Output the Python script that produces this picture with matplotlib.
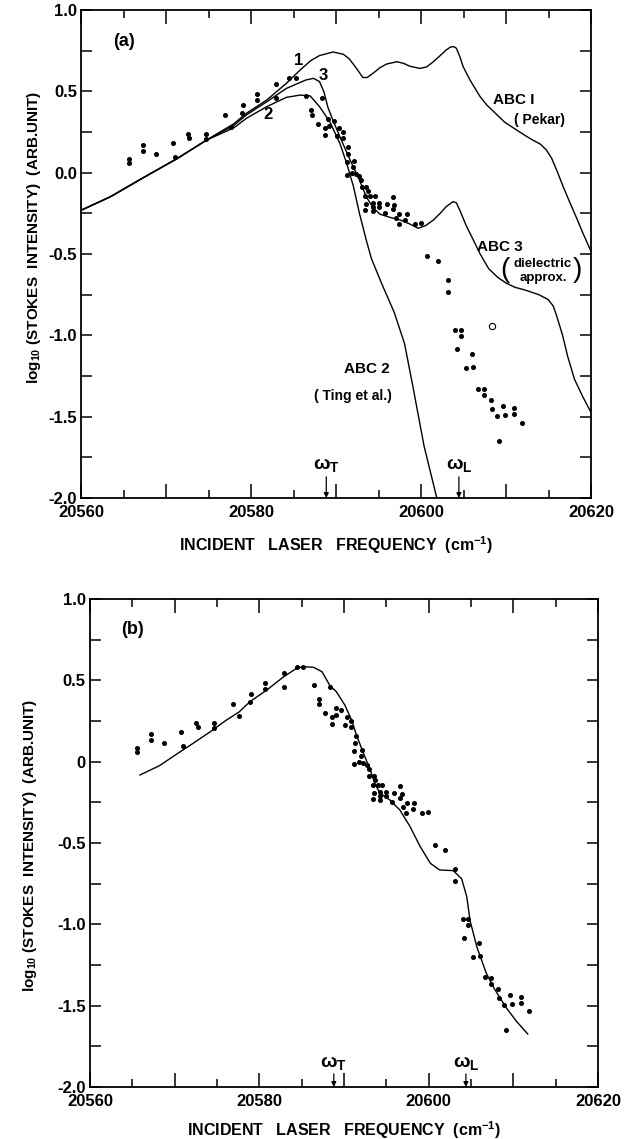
import matplotlib
matplotlib.use('Agg')
import matplotlib.pyplot as plt
from matplotlib.ticker import MultipleLocator, FuncFormatter

plt.rcParams['font.family'] = ['Liberation Sans', 'DejaVu Sans']
plt.rcParams['font.weight'] = 'bold'
plt.rcParams['axes.labelweight'] = 'bold'
plt.rcParams['mathtext.default'] = 'regular'

# ---------------- experimental points (same data in both panels) ----------------
exp_x = [20565.6, 20565.6, 20567.2, 20567.2, 20568.8, 20570.8, 20571.0, 20572.5, 20572.7,
         20574.7, 20574.6, 20576.9, 20577.6, 20579.0, 20578.9, 20580.7, 20580.7, 20582.9,
         20582.9, 20584.4, 20585.2, 20586.4, 20587.0, 20587.1, 20587.8, 20588.3, 20588.6,
         20588.6, 20589.05, 20589.1, 20589.7, 20590.1, 20590.3, 20590.8, 20590.8, 20591.4,
         20591.3, 20591.2, 20591.2, 20591.8, 20592.1, 20592.0, 20592.3, 20592.7, 20592.9,
         20593.0, 20593.5, 20593.7, 20593.4, 20594.0, 20594.5, 20593.5, 20593.4, 20594.25,
         20594.3, 20594.3, 20595.0, 20594.96, 20595.7, 20595.9, 20596.6, 20596.8, 20596.6,
         20597.0, 20597.4, 20597.3, 20598.1, 20598.3, 20599.2, 20599.9, 20600.7, 20601.9,
         20603.1, 20603.1, 20604.0, 20604.6, 20604.6, 20604.2, 20605.9, 20605.2, 20606.1,
         20606.7, 20607.4, 20607.4, 20608.15, 20608.3, 20608.9, 20609.6, 20609.8, 20610.9,
         20610.9, 20611.8, 20609.1]
exp_y = [0.086, 0.061, 0.170, 0.133, 0.117, 0.180, 0.098, 0.240, 0.215,
         0.236, 0.205, 0.355, 0.283, 0.414, 0.369, 0.482, 0.447, 0.543,
         0.457, 0.584, 0.580, 0.471, 0.385, 0.352, 0.301, 0.461, 0.277,
         0.230, 0.328, 0.287, 0.318, 0.226, 0.277, 0.252, 0.211, 0.160,
         0.117, 0.068, -0.016, 0.000, 0.072, 0.035, -0.010, -0.020, -0.047,
         -0.088, -0.088, -0.112, -0.143, -0.143, -0.143, -0.194, -0.229, -0.184,
         -0.209, -0.236, -0.184, -0.209, -0.246, -0.194, -0.149, -0.199, -0.225,
         -0.277, -0.256, -0.317, -0.293, -0.256, -0.317, -0.307, -0.512, -0.543,
         -0.661, -0.733, -0.967, -0.967, -1.004, -1.082, -1.117, -1.198, -1.192,
         -1.327, -1.331, -1.368, -1.397, -1.454, -1.495, -1.434, -1.491, -1.444,
         -1.485, -1.536, -1.649]

# open circle in panel (a)
open_x = [20608.3]
open_y = [-0.94]

# ---------------- panel (a) theory curves ----------------
abc1_x = [20560, 20563.4, 20567.3, 20571.2, 20574.7, 20577.9, 20579.4, 20581.8, 20584.1,
          20585.7, 20587.0, 20588.0, 20589.6, 20590.8, 20591.5, 20592.3, 20593.1, 20593.6,
          20594.3, 20595.1, 20595.9, 20597.1, 20597.9, 20598.6, 20599.8, 20600.6, 20601.4,
          20602.2, 20602.9, 20603.4, 20603.8, 20604.1, 20604.5, 20604.9, 20605.7, 20606.9,
          20607.7, 20608.5, 20609.8, 20611.2, 20612.3, 20613.1, 20614.0, 20614.7, 20615.3,
          20615.9, 20616.7, 20617.5, 20618.3, 20619.0, 20620.0]
abc1_y = [-0.23, -0.148, -0.03, 0.085, 0.20, 0.30, 0.365, 0.447, 0.549,
          0.63, 0.69, 0.72, 0.742, 0.728, 0.70, 0.645, 0.585, 0.585,
          0.611, 0.645, 0.668, 0.682, 0.672, 0.655, 0.641, 0.650, 0.682,
          0.720, 0.754, 0.772, 0.775, 0.765, 0.715, 0.652, 0.57, 0.467,
          0.415, 0.375, 0.31, 0.262, 0.225, 0.20, 0.175, 0.139, 0.09,
          0.016, -0.09, -0.189, -0.285, -0.373, -0.49]

abc3_x = [20560, 20563.4, 20567.3, 20571.2, 20574.7, 20577.9, 20579.4, 20581.8, 20584.1,
          20586.4, 20587.3, 20588.0, 20588.5, 20589.0, 20589.6, 20590.4, 20591.6, 20592.7,
          20593.5, 20594.3, 20595.1, 20596.3, 20597.5, 20598.6, 20599.6, 20600.5, 20601.4,
          20602.2, 20602.9, 20603.7, 20604.1, 20604.5, 20605.3, 20606.1, 20606.9, 20607.9,
          20609.0, 20610.0, 20611.0, 20612.1, 20613.8, 20614.9, 20615.5, 20615.9, 20616.6,
          20617.2, 20618.0, 20619.0, 20620.0]
abc3_y = [-0.23, -0.148, -0.03, 0.085, 0.20, 0.29, 0.355, 0.436, 0.518,
          0.570, 0.580, 0.56, 0.50, 0.40, 0.32, 0.221, 0.078, -0.045,
          -0.148, -0.215, -0.255, -0.275, -0.291, -0.315, -0.342, -0.325, -0.291,
          -0.25, -0.209, -0.178, -0.185, -0.23, -0.33, -0.414, -0.50, -0.59,
          -0.645, -0.68, -0.705, -0.72, -0.75, -0.78, -0.82, -0.88, -1.0,
          -1.13, -1.27, -1.38, -1.48]

abc2_x = [20560, 20563.4, 20567.3, 20571.2, 20574.7, 20577.9, 20579.4, 20581.8, 20584.1,
          20585.7, 20586.9, 20588.0, 20589.2, 20590.4, 20591.2, 20592.0, 20592.7, 20593.5,
          20594.1, 20595.3, 20596.8, 20598.0, 20598.9, 20600.3, 20601.8]
abc2_y = [-0.23, -0.148, -0.03, 0.085, 0.20, 0.275, 0.334, 0.406, 0.463,
          0.477, 0.472, 0.406, 0.314, 0.18, 0.057, -0.086, -0.25, -0.414,
          -0.527, -0.68, -0.86, -1.05, -1.29, -1.68, -2.0]

# ---------------- panel (b) fitted curve ----------------
fit_x = [20565.9, 20568.2, 20570.2, 20572.1, 20574.1, 20576.1, 20577.6, 20578.9, 20580.9,
         20582.8, 20584.4, 20585.2, 20586.4, 20587.4, 20588.3, 20589.1, 20590.1, 20590.9,
         20591.5, 20592.3, 20593.1, 20593.7, 20594.25, 20595.4, 20596.6, 20597.8, 20599.0,
         20600.2, 20601.3, 20602.9, 20603.9, 20604.5, 20604.9, 20605.7, 20606.8, 20607.8,
         20609.2, 20610.4, 20611.7]
fit_y = [-0.082, -0.025, 0.045, 0.11, 0.18, 0.255, 0.305, 0.369, 0.441,
         0.519, 0.574, 0.584, 0.580, 0.553, 0.471, 0.430, 0.348, 0.256,
         0.160, 0.052, -0.051, -0.140, -0.194, -0.235, -0.297, -0.399, -0.522,
         -0.625, -0.666, -0.67, -0.72, -0.83, -0.98, -1.14, -1.30, -1.40,
         -1.516, -1.598, -1.674]

omega_T = 20588.8
omega_L = 20604.4

ylab_a = ["1.0", "0.5", "0.0", "-0.5", "-1.0", "-1.5", "-2.0"]
ylab_b = ["1.0", "0.5", "0", "-0.5", "-1.0", "-1.5", "-2.0"]
yvals = [1.0, 0.5, 0.0, -0.5, -1.0, -1.5, -2.0]

fig = plt.figure(figsize=(6.24, 11.39), dpi=100)
ax1 = fig.add_axes([0.1306, 0.5628, 0.8173, 0.4284])
ax2 = fig.add_axes([0.1442, 0.0457, 0.8141, 0.4284])


def style(ax, ylabels, ylab_xy, xlab_y):
    ax.set_xlim(20560, 20620)
    ax.set_ylim(-2.0, 1.0)
    ax.xaxis.set_major_locator(MultipleLocator(10))
    ax.xaxis.set_minor_locator(MultipleLocator(5))
    ax.xaxis.set_major_formatter(FuncFormatter(
        lambda v, p: f"{int(round(v))}" if int(round(v)) % 20 == 0 else ""))
    ax.set_yticks(yvals, labels=ylabels)
    ax.yaxis.set_minor_locator(MultipleLocator(0.25))
    ax.tick_params(which='both', direction='in', top=True, right=True, width=1.1)
    ax.tick_params(axis='x', which='major', length=10, pad=5, labelsize=12)
    ax.tick_params(axis='x', which='minor', length=6)
    ax.tick_params(axis='y', which='both', length=8, pad=3, labelsize=12)
    for s in ax.spines.values():
        s.set_linewidth(1.3)
    ax.set_xlabel("INCIDENT   LASER   FREQUENCY  (cm$^{-1}$)", fontsize=11.5,
                  va='center')
    ax.xaxis.set_label_coords(0.5, xlab_y)
    ax.set_ylabel("log$_{10}$ (STOKES  INTENSITY)  (ARB.UNIT)", fontsize=11,
                  va='center')
    ax.yaxis.set_label_coords(*ylab_xy)


def omega(ax, ylab, ytop):
    for x, s in [(omega_T, r"$\omega_T$"), (omega_L, r"$\omega_L$")]:
        ax.annotate('', xy=(x, -2.0), xytext=(x, ytop),
                    arrowprops=dict(arrowstyle='-|>', lw=0.9, color='k',
                                    mutation_scale=7, shrinkA=0, shrinkB=0))
        ax.text(x, ylab, s, ha='center', va='center', fontsize=14)


# panel (a)
style(ax1, ylab_a, (-0.093, 0.535), -0.096)
ax1.plot(abc1_x, abc1_y, color='k', lw=1.0)
ax1.plot(abc3_x, abc3_y, color='k', lw=1.0)
ax1.plot(abc2_x, abc2_y, color='k', lw=1.0)
ax1.plot(exp_x, exp_y, 'o', color='k', ms=2.6, ls='none')
ax1.plot(open_x, open_y, 'o', mfc='none', mec='k', ms=4.5, mew=0.8, ls='none')
ax1.text(20565, 0.805, "(a)", fontsize=13, ha='center', va='center')
ax1.text(20585.5, 0.69, "1", fontsize=12, ha='center', va='center')
ax1.text(20588.4, 0.60, "3", fontsize=12, ha='center', va='center')
ax1.text(20582.0, 0.355, "2", fontsize=12, ha='center', va='center')
ax1.text(20610.8, 0.447, "ABC I", fontsize=11, ha='center', va='center')
ax1.text(20613.9, 0.324, "( Pekar)", fontsize=10, ha='center', va='center')
ax1.text(20609.2, -0.455, "ABC 3", fontsize=11, ha='center', va='center')
ax1.text(20614.2, -0.563, "dielectric", fontsize=9.5, ha='center', va='center')
ax1.text(20614.4, -0.645, "approx.", fontsize=9.5, ha='center', va='center')
ax1.text(20609.8, -0.60, "(", fontsize=20, ha='center', va='center', fontweight='normal')
ax1.text(20618.4, -0.60, ")", fontsize=20, ha='center', va='center', fontweight='normal')
ax1.text(20593.6, -1.21, "ABC 2", fontsize=11, ha='center', va='center')
ax1.text(20591.9, -1.374, "( Ting et al.)", fontsize=10, ha='center', va='center')
omega(ax1, -1.80, -1.87)

# panel (b)
style(ax2, ylab_b, (-0.118, 0.495), -0.088)
ax2.plot(fit_x, fit_y, color='k', lw=1.0)
ax2.plot(exp_x, exp_y, 'o', color='k', ms=2.6, ls='none')
ax2.text(20565, 0.81, "(b)", fontsize=13, ha='center', va='center')
omega(ax2, -1.85, -1.92)

fig.savefig('out.png', dpi=100)
